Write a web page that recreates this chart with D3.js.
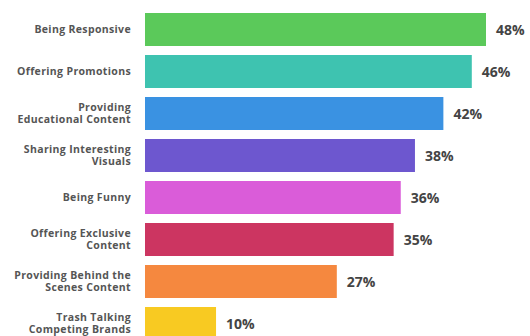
<!DOCTYPE html>
<html>
<head>
<meta charset="utf-8">
<script src="https://cdn.jsdelivr.net/npm/d3@7"></script>
<style>
  body { margin: 0; background: #fff; }
  svg { display: block; }
</style>
</head>
<body>
<svg width="530" height="336"></svg>
<script>
// data
var categories = [
  ["Being Responsive"],
  ["Offering Promotions"],
  ["Providing", "Educational Content"],
  ["Sharing Interesting", "Visuals"],
  ["Being Funny"],
  ["Offering Exclusive", "Content"],
  ["Providing Behind the", "Scenes Content"],
  ["Trash Talking", "Competing Brands"]
];
var values = [48, 46, 42, 38, 36, 35, 27, 10];
var colors = ["#5bc95a", "#3ec3b0", "#3a92e2", "#6d57cf", "#da5cd9", "#cc3561", "#f5883f", "#f8ca22"];

var svg = d3.select("svg");

var x = d3.scaleLinear()
  .domain([0, 48])
  .range([145, 486]);

var y = d3.scaleBand()
  .domain(d3.range(values.length))
  .range([13, 340])
  .paddingInner(9 / 42)
  .paddingOuter(0);

// bars
svg.selectAll(".bar")
  .data(values)
  .enter().append("rect")
    .attr("class", "bar")
    .attr("x", x(0))
    .attr("y", function(d, i) { return y(i); })
    .attr("width", function(d) { return x(d) - x(0); })
    .attr("height", y.bandwidth())
    .attr("fill", function(d, i) { return colors[i]; });

// value labels
svg.selectAll(".val")
  .data(values)
  .enter().append("text")
    .attr("class", "val")
    .attr("x", function(d) { return x(d) + 10; })
    .attr("y", function(d, i) { return y(i) + y.bandwidth() / 2; })
    .attr("dy", "0.36em")
    .style("font-family", "'Open Sans', sans-serif")
    .style("font-weight", "bold")
    .style("font-size", "14px")
    .style("fill", "#444")
    .text(function(d) { return d + "%"; });

// category labels
var lab = svg.selectAll(".cat")
  .data(categories)
  .enter().append("text")
    .attr("class", "cat")
    .attr("text-anchor", "end")
    .style("font-family", "'Open Sans', sans-serif")
    .style("font-weight", "bold")
    .style("font-size", "10.5px")
    .style("letter-spacing", "0.35px")
    .style("fill", "#555")
    .attr("transform", function(d, i) {
      return "translate(131," + (y(i) + y.bandwidth() / 2) + ")";
    });

lab.selectAll("tspan")
  .data(function(d) { return d.map(function(t, j) { return {t: t, j: j, n: d.length}; }); })
  .enter().append("tspan")
    .attr("x", 0)
    .attr("y", function(d) { return (d.j - (d.n - 1) / 2) * 12.5; })
    .attr("dy", "0.35em")
    .text(function(d) { return d.t; });
</script>
</body>
</html>
